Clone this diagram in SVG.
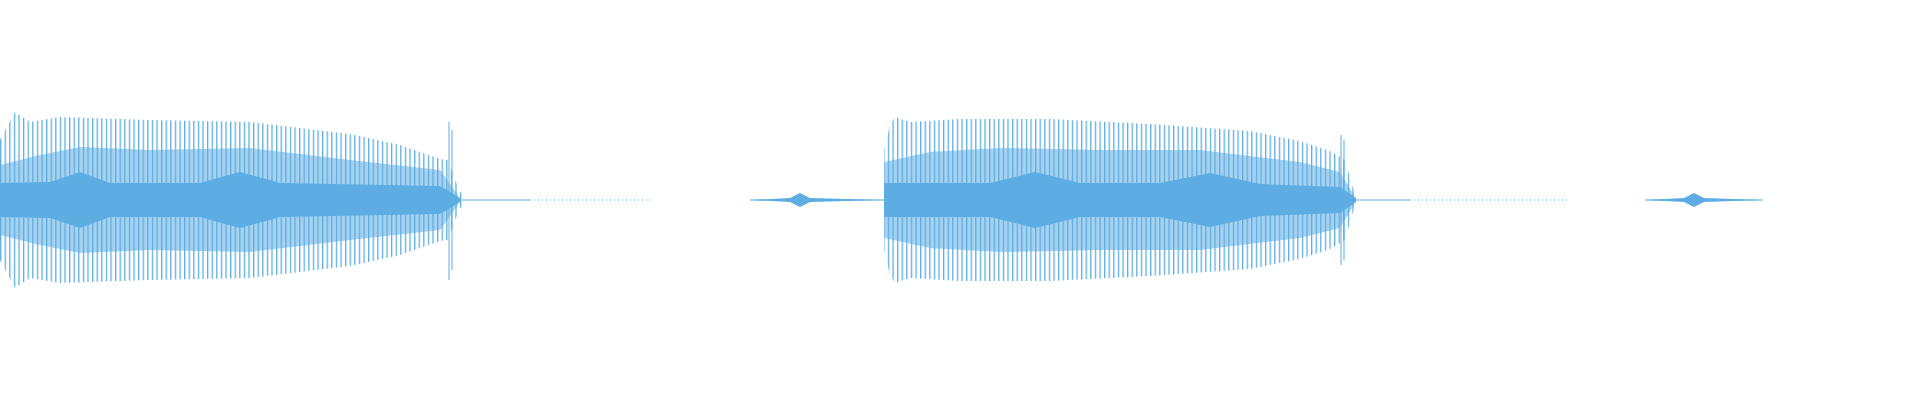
<svg xmlns="http://www.w3.org/2000/svg" width="1920" height="400" viewBox="0 0 1920 400">
<defs>
<pattern id="st" width="4.6" height="400" patternUnits="userSpaceOnUse"><rect x="0" y="0" width="1.3" height="400" fill="#5dade2"/></pattern>
<style>.w{fill:url(#st)}.m{fill:#5dade2;opacity:0.55}.s{fill:#5dade2}.l{stroke:#5dade2;fill:none;stroke-width:1}.d{stroke:#5dade2;stroke-width:1;stroke-dasharray:1 3}</style>
</defs>
<rect width="1920" height="400" fill="#fff"/>
<g id="burst1">
<path class="w" d="M0,140 L8,125 L15,112 L30,122 L60,117 L150,120 L250,122 L350,134 L400,145 L440,159 L448,160 L455,180 L462,195 L462,205 L455,220 L448,240 L440,241 L400,255 L350,266 L250,278 L150,280 L60,283 L30,278 L15,288 L8,275 L0,260 Z"/>
<path class="m" d="M0,165 L40,155 L80,147 L150,150 L250,148 L350,160 L440,170 L458,195 L458,205 L440,230 L350,240 L250,252 L150,250 L80,253 L40,245 L0,235 Z"/>
<path class="s" d="M0,183 L50,182 L80,172 L110,183 L200,183 L240,172 L280,183 L440,186 L460,198 L460,202 L440,214 L280,217 L240,228 L200,217 L110,217 L80,228 L50,218 L0,217 Z"/>
<path class="l" d="M449,122 L449,280 M452,130 L452,270"/>
<path class="l" d="M462,200 L530,200"/>
<line class="d" x1="530" y1="200" x2="652" y2="200"/>
<path class="s" d="M750,200 L790,198 L800,193 L810,198 L884,200 L810,202 L800,207 L790,202 Z"/>
<path class="l" d="M750,200 L884,200"/>
</g>
<g id="burst2">
<path class="w" d="M884,150 L890,125 L895,117 L910,122 L960,119 L1050,119 L1150,124 L1250,131 L1300,141 L1330,151 L1345,160 L1352,185 L1356,196 L1356,204 L1352,215 L1345,240 L1330,249 L1300,259 L1250,269 L1150,276 L1050,281 L960,281 L910,278 L895,283 L890,275 L884,250 Z"/>
<path class="m" d="M884,162 L930,152 L1000,148 L1100,150 L1200,150 L1300,162 L1340,172 L1354,195 L1354,205 L1340,228 L1300,238 L1200,250 L1100,250 L1000,252 L930,248 L884,238 Z"/>
<path class="s" d="M884,183 L990,183 L1035,172 L1080,183 L1160,183 L1210,173 L1260,184 L1340,187 L1356,198 L1356,202 L1340,213 L1260,216 L1210,227 L1160,217 L1080,217 L1035,228 L990,217 L884,217 Z"/>
<path class="l" d="M1341,135 L1341,265 M1344,140 L1344,260"/>
<path class="l" d="M1356,200 L1410,200"/>
<line class="d" x1="1410" y1="200" x2="1568" y2="200"/>
<path class="s" d="M1645,200 L1684,198 L1694,193 L1704,198 L1763,200 L1704,202 L1694,207 L1684,202 Z"/>
<path class="l" d="M1645,200 L1763,200"/>
</g>
</svg>
